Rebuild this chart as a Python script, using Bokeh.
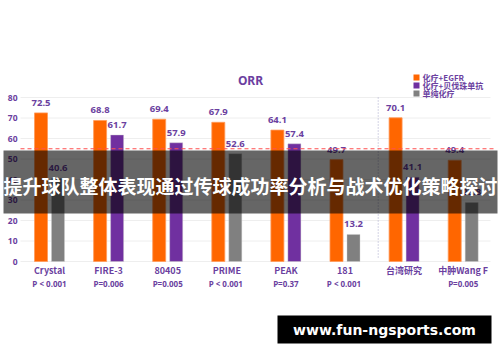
from bokeh.plotting import figure
from bokeh.embed import file_html
from bokeh.resources import INLINE
from bokeh.core.properties import value
from bokeh.models import ColumnDataSource

# ---- data ----
studies = ["Crystal", "FIRE-3", "80405", "PRIME", "PEAK", "181", "台湾研究", "中肿Wang F"]
p_values = ["P < 0.001", "P=0.006", "P=0.005", "P  < 0.001", "P=0.37", "P  < 0.001", "", "P=0.005"]
egfr = [72.5, 68.8, 69.4, 67.9, 64.1, 49.7, 70.1, 49.4]
# second bar: value and kind ("bev" purple, "chemo" grey)
second_vals = [40.6, 61.7, 57.9, 52.6, 57.4, 13.2, 41.1, 28.8]
second_kind = ["chemo", "bev", "bev", "chemo", "bev", "chemo", "bev", "chemo"]
y_ticks = [0, 10, 20, 30, 40, 50, 60, 70, 80]
ref_line = 55
legend_labels = ["化疗+EGFR", "化疗+贝伐珠单抗", "单纯化疗"]
title = "ORR"
banner = "提升球队整体表现通过传球成功率分析与战术优化策略探讨"
watermark = "www.fun-ngsports.com"

ORANGE = "#FF6600"
PURPLE = "#7030A0"
GREY = "#808080"
TXT = "#6B3FA0"
colors = {"bev": PURPLE, "chemo": GREY}

W, H = 500, 362
GAP = 59.1           # px per group
PPU = 2.05           # px per y unit
ZERO = 261           # px of y=0
X0 = -49 / GAP

def X(px):
    return X0 + px / GAP

def Y(py):
    return (ZERO - py) / PPU

p = figure(width=W, height=H, output_backend="svg", toolbar_location=None,
           x_range=(X(0), X(W)), y_range=(Y(H), Y(0)),
           min_border=0, min_border_left=0, min_border_right=0,
           min_border_top=0, min_border_bottom=0)
p.axis.visible = False
p.grid.visible = False
p.outline_line_color = None
p.background_fill_color = "white"

idx = list(range(len(studies)))
off = 8.5 / GAP
bw = 13 / GAP
lab_off = 10 / PPU

# gridlines
p.segment(x0=[X(20)] * len(y_ticks), x1=[X(490)] * len(y_ticks), y0=y_ticks, y1=y_ticks,
          line_color="#eeeeee", line_width=1)
# y tick labels
p.text(x=[X(17)] * len(y_ticks), y=y_ticks, text=[str(t) for t in y_ticks],
       text_align="right", text_baseline="middle", text_font=value("Noto Sans"),
       text_font_size="8.5px", text_font_style="bold", text_color=TXT)

# divider
p.segment(x0=[X(377.7)], x1=[X(377.7)], y0=[Y(257)], y1=[Y(97)],
          line_color="#a8a8cc", line_width=1, line_dash="1 2")

# bars
src1 = ColumnDataSource(dict(x=[i - off for i in idx], top=egfr,
                             ly=[v + lab_off for v in egfr],
                             lab=[f"{v:.1f}" for v in egfr]))
p.vbar(x="x", top="top", bottom=0, width=bw, source=src1, fill_color=ORANGE,
       line_color="#ff9a5a", line_width=0.8)
src2 = ColumnDataSource(dict(x=[i + off for i in idx], top=second_vals,
                             ly=[v + lab_off for v in second_vals],
                             c=[colors[k] for k in second_kind],
                             lab=[f"{v:.1f}" for v in second_vals]))
p.vbar(x="x", top="top", bottom=0, width=bw, source=src2, fill_color="c",
       line_color="#cccccc", line_alpha=0.5, line_width=0.8)

for s in (src1, src2):
    p.text(x="x", y="ly", text="lab", source=s,
           text_align="center", text_baseline="middle", text_font=value("Noto Sans"),
           text_font_size="9.5px", text_font_style="bold", text_color=TXT)

# reference line
p.segment(x0=[X(20)], x1=[X(496)], y0=[ref_line], y1=[ref_line],
          line_color="#ff5050", line_width=1.2, line_dash="4 3")

# x labels
p.text(x=idx, y=[Y(270)] * len(idx), text=studies, text_align="center",
       text_baseline="middle", text_font=value("Noto Sans CJK SC"), text_font_size="9px",
       text_font_style="bold", text_color=TXT)
p.text(x=idx, y=[Y(283)] * len(idx), text=p_values, text_align="center",
       text_baseline="middle", text_font=value("Noto Sans"), text_font_size="8px",
       text_font_style="bold", text_color=TXT)

# title
p.text(x=[X(250)], y=[Y(80)], text=[title], text_align="center", text_baseline="middle",
       text_font=value("Noto Sans"), text_font_size="12px", text_font_style="bold",
       text_color=TXT)

# legend
leg_cols = [ORANGE, PURPLE, GREY]
leg_y = [Y(77), Y(85), Y(93)]
p.scatter(x=[X(416)] * 3, y=leg_y, marker="square", size=6, fill_color=leg_cols,
          line_color=None)
p.text(x=[X(422)] * 3, y=leg_y, text=legend_labels, text_align="left",
       text_baseline="middle", text_font=value("Noto Sans CJK SC"), text_font_size="8px",
       text_font_style="bold", text_color=TXT)

# banner
p.quad(left=[X(3)], right=[X(497)], bottom=[Y(213)], top=[Y(150)],
       fill_color="black", fill_alpha=0.6, line_color=None)
p.text(x=[X(250)], y=[Y(185)], text=[banner], text_align="center", text_baseline="middle",
       text_font=value("Noto Sans CJK SC"), text_font_size="19px", text_font_style="bold",
       text_color="white")

# watermark
p.quad(left=[X(277)], right=[X(491)], bottom=[Y(343)], top=[Y(315)],
       fill_color="black", line_color=None)
p.text(x=[X(384)], y=[Y(329)], text=[watermark], text_align="center", text_baseline="middle",
       text_font=value("DejaVu Sans"), text_font_size="14px", text_font_style="bold",
       text_color="white")

open("out.html", "w").write(file_html(p, INLINE))
